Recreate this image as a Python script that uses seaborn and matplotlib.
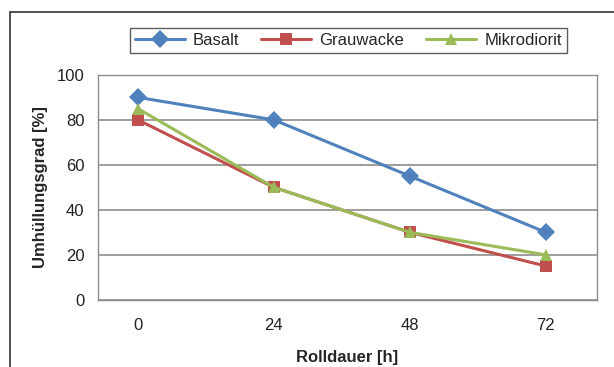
import pandas as pd
import matplotlib.pyplot as plt
import seaborn as sns
from matplotlib.patches import Rectangle

hours = [0, 24, 48, 72]
basalt = [90, 80, 55, 30]
grauwacke = [80, 50, 30, 15]
mikrodiorit = [85, 50, 30, 20]

series = ["Basalt", "Grauwacke", "Mikrodiorit"]
colors = ["#4F81BD", "#C0504D", "#9BBB59"]
markers = ["D", "s", "^"]

df = pd.DataFrame({
    "Rolldauer": hours * 3,
    "Wert": basalt + grauwacke + mikrodiorit,
    "Gestein": [s for s in series for _ in hours],
})

sns.set_theme(style="white")
plt.rcParams["font.family"] = ["Liberation Sans", "DejaVu Sans"]

fig = plt.figure(figsize=(6.14, 3.67), dpi=100)
ax = fig.add_axes([0.16, 0.183, 0.812, 0.613])

sns.lineplot(data=df, x="Rolldauer", y="Wert", hue="Gestein", style="Gestein",
             palette=dict(zip(series, colors)), markers=dict(zip(series, markers)),
             dashes=False, markersize=9, markeredgewidth=0, linewidth=2.2, ax=ax)

ax.set_xlim(-7, 81)
ax.set_ylim(0, 100)
ax.set_xticks(hours)
ax.set_yticks(range(0, 101, 20))
ax.tick_params(labelsize=12, colors="#222222", length=0)
ax.tick_params(axis="x", pad=13)
ax.tick_params(axis="y", pad=10)
ax.yaxis.grid(True, color="#8c8c8c", linewidth=1.2)
for sp in ax.spines.values():
    sp.set_color("#8c8c8c")
    sp.set_linewidth(1)
ax.set_xlabel("Rolldauer [h]", fontsize=12, fontweight="bold", labelpad=12)
ax.set_ylabel("Umhüllungsgrad [%]", fontsize=12, fontweight="bold", labelpad=6)

handles, labels = ax.get_legend_handles_labels()
leg = fig.legend(handles, labels, loc="center", bbox_to_anchor=(0.567, 0.891), ncol=3,
                 fontsize=12, frameon=True, fancybox=False, borderpad=0.3,
                 handlelength=3.0, columnspacing=1.3, handletextpad=0.5)
leg.get_frame().set_edgecolor("#333333")
leg.get_frame().set_linewidth(1)
ax.get_legend().remove()

# outer frame of the chart
fig.patches.append(Rectangle((10 / 614, -0.1), 1.2, 1.1 - 12 / 367, transform=fig.transFigure,
                             fill=False, edgecolor="#333333", linewidth=1.2))

fig.savefig("out.png", dpi=100)
